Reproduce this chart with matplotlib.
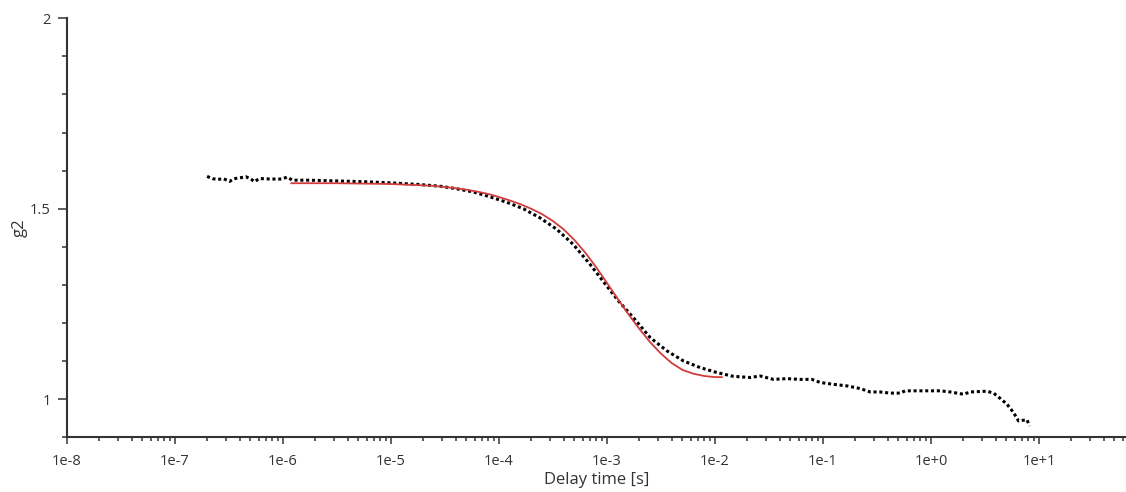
import numpy as np
import matplotlib
matplotlib.use('Agg')
import matplotlib.pyplot as plt
from matplotlib.ticker import LogLocator, FixedLocator, MultipleLocator, FixedFormatter

plt.rcParams['font.family'] = ['Open Sans', 'DejaVu Sans']

# measured correlation (log10 of delay time in s, g2)
log_tau = [-6.70, -6.65, -6.60, -6.55, -6.49, -6.45, -6.40, -6.34, -6.29, -6.26,
           -6.22, -6.17, -6.12, -6.07, -6.01, -5.96, -5.91, -5.75, -5.50, -5.25,
           -5.00, -4.75, -4.54, -4.40, -4.235, -4.10, -3.926, -3.772, -3.618, -3.463,
           -3.309, -3.155, -3.00, -2.892, -2.754, -2.599, -2.444, -2.291, -2.136, -1.981,
           -1.828, -1.673, -1.58, -1.457, -1.333, -1.21, -1.102, -1.025, -0.902, -0.778,
           -0.655, -0.562, -0.470, -0.377, -0.284, -0.238, -0.13, -0.007, 0.086, 0.179,
           0.302, 0.364, 0.519, 0.580, 0.642, 0.704, 0.765, 0.811, 0.889, 0.913]
g2 = [1.585, 1.579, 1.577, 1.579, 1.572, 1.579, 1.581, 1.584, 1.577, 1.571,
      1.579, 1.579, 1.578, 1.578, 1.578, 1.583, 1.575, 1.575, 1.573, 1.571,
      1.568, 1.564, 1.559, 1.553, 1.544, 1.533, 1.517, 1.500, 1.476, 1.446,
      1.406, 1.354, 1.297, 1.258, 1.214, 1.162, 1.127, 1.1005, 1.083, 1.070,
      1.060, 1.057, 1.061, 1.052, 1.054, 1.052, 1.052, 1.044, 1.039, 1.035,
      1.028, 1.019, 1.019, 1.016, 1.016, 1.022, 1.022, 1.022, 1.022, 1.019,
      1.013, 1.019, 1.021, 1.016, 1.002, 0.987, 0.965, 0.943, 0.946, 0.930]

# fitted curve
fit_log_tau = [-5.92, -5.50, -5.00, -4.75, -4.60, -4.50, -4.40, -4.30, -4.20, -4.10,
               -4.00, -3.90, -3.80, -3.70, -3.60, -3.50, -3.40, -3.30, -3.20, -3.10,
               -3.00, -2.90, -2.80, -2.70, -2.60, -2.50, -2.40, -2.30, -2.20, -2.10,
               -2.00, -1.935]
fit_g2 = [1.567, 1.567, 1.565, 1.562, 1.560, 1.557, 1.554, 1.550, 1.545, 1.539,
          1.531, 1.522, 1.512, 1.500, 1.486, 1.468, 1.446, 1.418, 1.385, 1.347,
          1.306, 1.264, 1.223, 1.185, 1.150, 1.120, 1.095, 1.077, 1.067, 1.061,
          1.058, 1.058]

x_ticks = [1e-8, 1e-7, 1e-6, 1e-5, 1e-4, 1e-3, 1e-2, 1e-1, 1e0, 1e1]
x_tick_labels = ['1e-8', '1e-7', '1e-6', '1e-5', '1e-4', '1e-3', '1e-2', '1e-1', '1e+0', '1e+1']
y_ticks = [1, 1.5, 2]
y_tick_labels = ['1', '1.5', '2']

tau = 10 ** np.array(log_tau)
fit_tau = 10 ** np.array(fit_log_tau)

fig = plt.figure(figsize=(11.26, 4.92), dpi=100)
ax = fig.add_axes([0.0592, 0.1112, 1 - 0.0592, 0.9628 - 0.1112])

ax.plot(tau, g2, color='black', lw=2.2, linestyle=(0, (1, 0.9)))
ax.plot(fit_tau, fit_g2, color='#d23c3c', lw=1.3)

ax.set_xscale('log')
ax.set_xlim(1e-8, 64)
ax.set_ylim(0.9, 2.0)

ax.xaxis.set_major_locator(FixedLocator(x_ticks))
ax.xaxis.set_major_formatter(FixedFormatter(x_tick_labels))
ax.xaxis.set_minor_locator(LogLocator(base=10, subs=np.arange(2, 10), numticks=30))
ax.yaxis.set_major_locator(FixedLocator(y_ticks))
ax.yaxis.set_major_formatter(FixedFormatter(y_tick_labels))
ax.yaxis.set_minor_locator(MultipleLocator(0.1))

for side in ['top', 'right']:
    ax.spines[side].set_visible(False)
for side in ['left', 'bottom']:
    ax.spines[side].set_linewidth(1.5)
    ax.spines[side].set_color('#333333')

ax.tick_params(axis='x', which='major', length=5, width=1.1, color='#333333',
               labelsize=10.5, labelcolor='#333333', pad=7)
ax.tick_params(axis='x', which='minor', length=3, width=1.1, color='#333333')
ax.tick_params(axis='y', which='major', length=6.5, width=1.1, color='#333333',
               labelsize=10.5, labelcolor='#333333', pad=5)
ax.tick_params(axis='y', which='minor', length=3.5, width=1.1, color='#333333')

ax.set_xlabel('Delay time [s]', fontsize=12, color='#333333')
ax.set_ylabel('g2', fontsize=12, color='#333333')
ax.xaxis.set_label_coords(0.5, -0.082)
ax.yaxis.set_label_coords(-0.0365, 0.5)

fig.savefig('out.png', dpi=100)
